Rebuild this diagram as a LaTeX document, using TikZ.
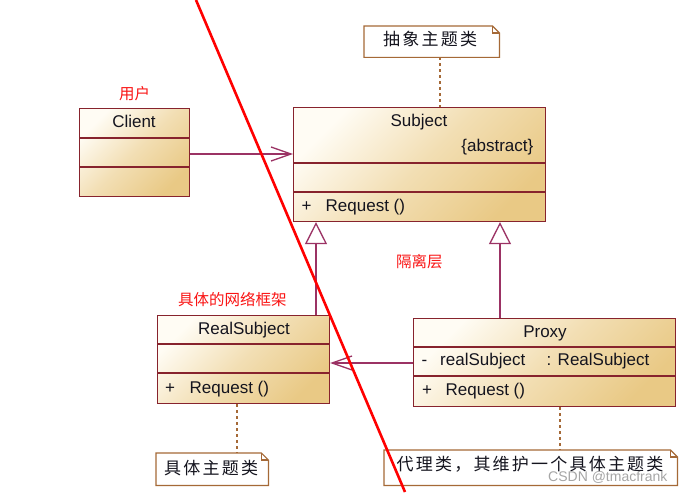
\documentclass[tikz,border=0pt]{standalone}
\usepackage{fontspec}
\setmainfont{Liberation Sans}
\newfontfamily\cjk[LetterSpace=13]{Noto Sans CJK SC}
\newfontfamily\cjkred{Noto Sans CJK SC}
\usetikzlibrary{arrows.meta}
\definecolor{bord}{RGB}{135,35,45}
\definecolor{conn}{RGB}{155,50,100}
\definecolor{lt}{RGB}{255,252,244}
\definecolor{dk}{RGB}{233,201,133}
\definecolor{notebord}{RGB}{165,105,55}
\definecolor{lbl}{RGB}{250,20,20}
\definecolor{txtc}{RGB}{20,20,30}
\begin{document}
\begin{tikzpicture}[x=1pt,y=-1pt,
  cls/.style={draw=bord, line width=1.1pt, rectangle, inner sep=0pt, anchor=north west,
              top color=lt, bottom color=dk, middle color=dk!58!lt, shading angle=45},
  divider/.style={draw=bord, line width=1.1pt},
  txt/.style={inner sep=0pt, font=\fontsize{17}{20}\selectfont, text=txtc},
  redlbl/.style={inner sep=0pt, font=\cjkred\fontsize{15.5}{18}\selectfont, text=lbl, anchor=base west},
  notebox/.style={inner sep=0pt, anchor=north west, draw=none, fill=white},
  notetxt/.style={inner sep=0pt, font=\cjk\fontsize{17}{20}\selectfont, text=txtc, anchor=base west},
  noteline/.style={draw=notebord, line width=1.2pt},
  dotline/.style={draw=notebord, line width=1.5pt, dash pattern=on 3pt off 3pt},
  assoc/.style={draw=conn, line width=1.3pt, -{Straight Barb[length=20pt,width=14pt,line width=1.3pt]}},
  gen/.style={draw=conn, line width=1.3pt, -{Triangle[open,length=22pt,width=22pt,line width=1.3pt,fill=white]}},
  redline/.style={draw=red, line width=2.6pt}
]
\useasboundingbox[fill=white] (0,0) rectangle (684,492);

% ---------- notes ----------
\newcommand{\drawnote}[1]{%
  \draw[noteline] (#1.north west) -- ([xshift=-7pt]#1.north east) -- ([yshift=-7pt]#1.north east)
     -- (#1.south east) -- (#1.south west) -- cycle;
  \draw[noteline] ([xshift=-7pt]#1.north east) -- ([xshift=-7pt,yshift=-7pt]#1.north east)
     -- ([yshift=-7pt]#1.north east);}

\node[notebox, minimum width=135pt, minimum height=31pt] (n1) at (364,26) {};
\drawnote{n1}
\node[notetxt] (n1t) at (383,45.5) {抽象主题类};

\node[notebox, minimum width=112pt, minimum height=32pt] (n2) at (156,453) {};
\drawnote{n2}
\node[notetxt] (n2t) at (164,474) {具体主题类};

\node[notebox, minimum width=293pt, minimum height=35pt] (n3) at (384,450) {};
\drawnote{n3}
\node[notetxt] (n3t) at (396.5,470) {代理类，其维护一个具体主题类};

% ---------- classes ----------
% Client
\node[cls, minimum width=110pt, minimum height=88pt] (client) at (79,108) {};
\draw[divider] ([yshift=-30pt]client.north west) -- ([yshift=-30pt]client.north east);
\draw[divider] ([yshift=-59pt]client.north west) -- ([yshift=-59pt]client.north east);
\node[txt, anchor=base] (clientname) at (134,127.5) {Client};

% Subject
\node[cls, minimum width=252pt, minimum height=114pt] (subject) at (293,107) {};
\draw[divider] ([yshift=-56pt]subject.north west) -- ([yshift=-56pt]subject.north east);
\draw[divider] ([yshift=-85pt]subject.north west) -- ([yshift=-85pt]subject.north east);
\node[txt, anchor=base] (subjname) at (419,126.5) {Subject};
\node[txt, anchor=base east] (subjabs) at (533.5,151.5) {\{abstract\}};
\node[txt, anchor=base] (subjplus) at (306.5,211.5) {+};
\node[txt, anchor=base west] (subjop) at (325.5,211.5) {Request ()};

% RealSubject
\node[cls, minimum width=172pt, minimum height=88pt] (real) at (157,315) {};
\draw[divider] ([yshift=-29pt]real.north west) -- ([yshift=-29pt]real.north east);
\draw[divider] ([yshift=-58pt]real.north west) -- ([yshift=-58pt]real.north east);
\node[txt, anchor=base] (realname) at (244,334) {RealSubject};
\node[txt, anchor=base] (realplus) at (170,393) {+};
\node[txt, anchor=base west] (realop) at (189.5,393) {Request ()};

% Proxy
\node[cls, minimum width=262pt, minimum height=88pt] (proxy) at (413,318) {};
\draw[divider] ([yshift=-29pt]proxy.north west) -- ([yshift=-29pt]proxy.north east);
\draw[divider] ([yshift=-58pt]proxy.north west) -- ([yshift=-58pt]proxy.north east);
\node[txt, anchor=base] (proxyname) at (545,337) {Proxy};
\node[txt, anchor=base] (proxyminus) at (424.5,365.5) {-};
\node[txt, anchor=base west] (proxyattr) at (440,365.5) {realSubject};
\node[txt, anchor=base west] (proxytype) at (546.5,365.5) {: RealSubject};
\node[txt, anchor=base] (proxyplus) at (427,395.5) {+};
\node[txt, anchor=base west] (proxyop) at (445.5,395.5) {Request ()};

% ---------- red labels ----------
\node[redlbl] (lclient) at (119,99.5) {用户};
\node[redlbl] (lsep) at (396,267) {隔离层};
\node[redlbl] (lframe) at (178,305) {具体的网络框架};

% ---------- connectors ----------
\draw[assoc] (client.east |- 0,154) -- (subject.west |- 0,154);
\draw[assoc] (proxy.west |- 0,363) -- (real.east |- 0,363);
\draw[gen] (real.north -| 316,0) -- (subject.south -| 316,0);
\draw[gen] (proxy.north -| 500,0) -- (subject.south -| 500,0);

\draw[dotline] (n1.south -| 440,0) -- (subject.north -| 440,0);
\draw[dotline] (real.south -| 237,0) -- (n2.north -| 237,0);
\draw[dotline] (proxy.south -| 560,0) -- (n3.north -| 560,0);

% ---------- red diagonal ----------
\coordinate (rtop) at (196,0);
\coordinate (rbot) at (405,492);
\draw[redline] (rtop) -- (rbot);

% ---------- watermark ----------
\node[inner sep=0pt, anchor=base west, font=\fontsize{14}{16}\selectfont, text=black!35] (wm) at (548,481.5) {CSDN @tmacfrank};
\end{tikzpicture}
\end{document}
